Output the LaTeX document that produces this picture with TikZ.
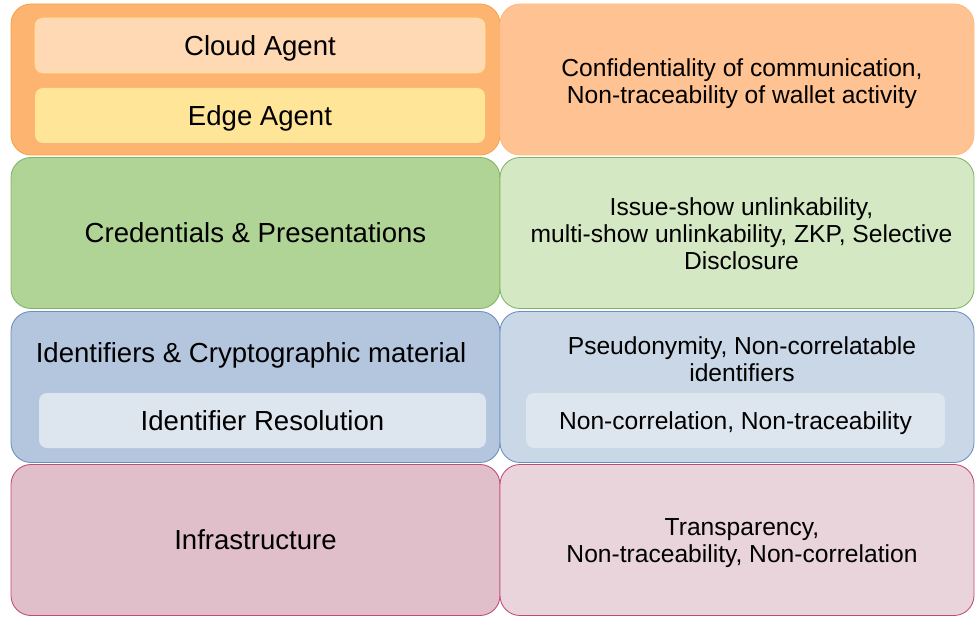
\documentclass[tikz,border=0pt]{standalone}
\usepackage{fontspec}
\setmainfont{Liberation Sans}
\newlength\pxu
\setlength\pxu{0.025cm}
\definecolor{agentleft}{HTML}{FDB470}
\definecolor{agentright}{HTML}{FFC393}
\definecolor{agentline}{HTML}{F5A247}
\definecolor{cloudfill}{HTML}{FFD9B4}
\definecolor{edgefill}{HTML}{FFE597}
\definecolor{credleft}{HTML}{B0D396}
\definecolor{credright}{HTML}{D5E8C4}
\definecolor{credline}{HTML}{82B366}
\definecolor{idleft}{HTML}{B3C6DE}
\definecolor{idright}{HTML}{C9D7E6}
\definecolor{idline}{HTML}{6C8EBF}
\definecolor{resfill}{HTML}{DDE5EF}
\definecolor{infleft}{HTML}{E0BECA}
\definecolor{infright}{HTML}{EAD4DC}
\definecolor{infline}{HTML}{C0497A}
\tikzset{
  layer/.style={draw, line width=0.6pt, rounded corners=20\pxu, inner sep=0pt,
    align=center, minimum height=151\pxu},
  leftlayer/.style={layer, minimum width=489\pxu, font=\fontsize{19.6}{23.5}\selectfont},
  rightlayer/.style={layer, minimum width=474\pxu},
  sublayer/.style={rounded corners=8\pxu, inner sep=0pt, minimum height=55\pxu,
    text depth=0pt, align=center},
  lefttext/.style={font=\fontsize{19.6}{23.5}\selectfont, align=center},
  righttext/.style={font=\fontsize{17.5}{19.2}\selectfont, align=center}
}
\begin{document}
\begin{tikzpicture}[x=\pxu, y=-\pxu]
\useasboundingbox (0,0) rectangle (975,617);
% agents
\node[leftlayer, fill=agentleft, draw=agentline](agents) at (255.5,79.5) {};
\node[sublayer, fill=cloudfill, draw=edgefill, minimum width=450\pxu, lefttext](cloud) at (260,45.5) {Cloud Agent};
\node[sublayer, fill=edgefill, minimum width=450\pxu, lefttext](edge) at (260,115.5) {Edge Agent};
\node[rightlayer, fill=agentright, draw=agentright!80!agentline](agentsprop) at (737,79.5) {};
\node[righttext](agentsproptext) at (742,83.5)
  {Confidentiality of communication,\\Non-traceability of wallet activity};
%
% credentials
\node[leftlayer, fill=credleft, draw=credline](creds) at (255.5,233) {Credentials \& Presentations};
\node[rightlayer, fill=credright, draw=credline](credsprop) at (737,233) {};
\node[righttext](credsproptext) at (741.5,233.5)
  {Issue-show unlinkability,\\multi-show unlinkability, ZKP, Selective\\Disclosure};
%
% identifiers
\node[leftlayer, fill=idleft, draw=idline](ids) at (255.5,387) {};
\node[lefttext](idstitle) at (251,355) {Identifiers \& Cryptographic material};
\node[sublayer, fill=resfill, minimum width=447\pxu, lefttext](resolution) at (262.5,420.5) {Identifier Resolution};
\node[rightlayer, fill=idright, draw=idline](idsprop) at (737,387) {};
\node[righttext](idsproptext) at (742,359.5) {Pseudonymity, Non-correlatable\\identifiers};
\node[sublayer, fill=resfill, minimum width=419\pxu, righttext](resprop) at (735.5,420.5) {Non-correlation, Non-traceability};
%
% infrastructure
\node[leftlayer, fill=infleft, draw=infline](infra) at (255.5,540) {Infrastructure};
\node[rightlayer, fill=infright, draw=infline](infraprop) at (737,540) {};
\node[righttext](infraproptext) at (742,543)
  {Transparency,\\Non-traceability, Non-correlation};
\end{tikzpicture}
\end{document}
